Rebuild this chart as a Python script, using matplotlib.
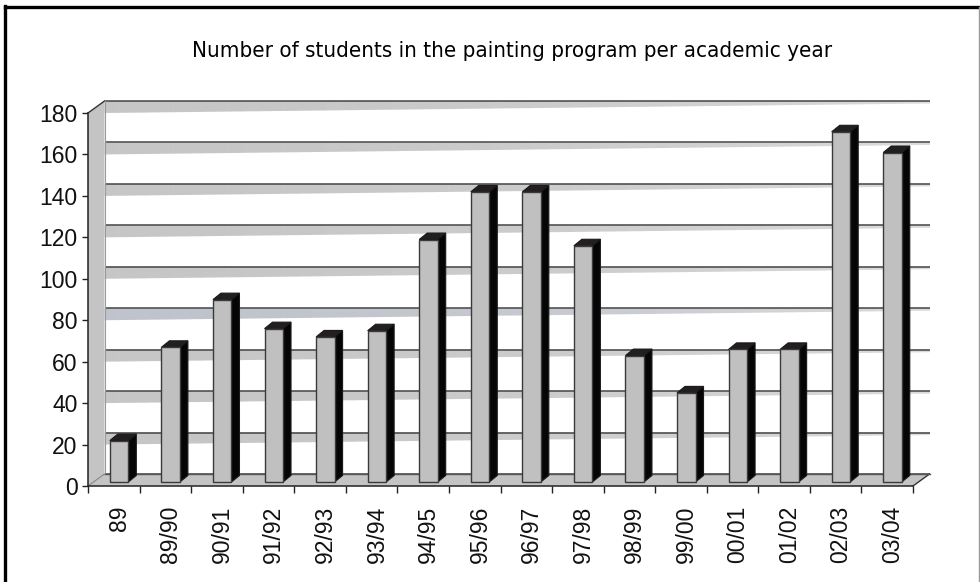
import matplotlib
matplotlib.use("Agg")
import matplotlib.pyplot as plt
from matplotlib.patches import Polygon
import numpy as np

# ---- data ----
categories = ["89", "89/90", "90/91", "91/92", "92/93", "93/94", "94/95", "95/96",
              "96/97", "97/98", "98/99", "99/00", "00/01", "01/02", "02/03", "03/04"]
students = [20, 65, 88, 74, 70, 73, 117, 140, 140, 114, 61, 43, 64, 64, 169, 159]
y_ticks = [0, 20, 40, 60, 80, 100, 120, 140, 160, 180]
title = "Number of students in the painting program per academic year"

W, H = 980, 582
fig = plt.figure(figsize=(W / 100, H / 100), dpi=100)

# axes: front plane of the 3-D box
L, R, T, B = 88, 913, 113, 486
ax = fig.add_axes([L / W, (H - B) / H, (R - L) / W, (B - T) / H])
n = len(categories)
ax.set_xlim(-0.5, n - 0.5)
ax.set_ylim(0, 180)
ux = n / (R - L)          # category units per pixel
uy = 180 / (B - T)        # value units per pixel

DXW, DYW = 16.5 * ux, 12 * uy        # wall depth
BX0, BY0 = 5.3 * ux, 4 * uy          # bar front plane offset
BDX, BDY = 8 * ux, 6.5 * uy          # bar depth
BW = 18.5 * ux                        # bar front width

x0, x1 = -0.5, n - 0.5
wall_edge = "#333333"

# back wall bands (gradient wedges) and gridlines
nseg = 60
for v in y_ticks[1:]:
    base = "#bfc3cb" if v == 80 else "#c6c6c6"
    c0 = np.array(matplotlib.colors.to_rgb(base))
    c1 = np.array([0.86, 0.86, 0.86])
    xa, xb = x0 + DXW, x1 + DXW
    for k in range(nseg):
        t0, t1 = k / nseg, (k + 1) / nseg
        xs0 = xa + (xb - xa) * t0
        xs1 = xa + (xb - xa) * t1
        yb0 = v + (DYW - 2.5 * uy) * t0
        yb1 = v + (DYW - 2.5 * uy) * t1
        col = c0 + (c1 - c0) * (t0 ** 2)
        ax.add_patch(Polygon([(xs0, v + DYW), (xs1 + 0.01, v + DYW),
                              (xs1 + 0.01, yb1), (xs0, yb0)],
                             closed=True, facecolor=col, edgecolor="none",
                             clip_on=False, zorder=1))
for v in y_ticks:
    ax.plot([x0 + DXW, x1 + DXW], [v + DYW, v + DYW], color="#444444",
            lw=1.1, clip_on=False, zorder=2, solid_capstyle="butt")

# left wall
ax.add_patch(Polygon([(x0, 0), (x0 + DXW, DYW), (x0 + DXW, 180 + DYW), (x0, 180)],
                     closed=True, facecolor="#c4c4c4", edgecolor="none",
                     clip_on=False, zorder=3))
ax.plot([x0, x0 + DXW], [180, 180 + DYW], color=wall_edge, lw=1, clip_on=False, zorder=4)
ax.plot([x0 + DXW, x0 + DXW], [DYW, 180 + DYW], color="#9a9a9a", lw=0.8, clip_on=False, zorder=4)

# floor
ax.add_patch(Polygon([(x0, 0), (x0 + DXW, DYW), (x1 + DXW, DYW), (x1, 0)],
                     closed=True, facecolor="#c4c4c4", edgecolor="none",
                     clip_on=False, zorder=3))
ax.plot([x0, x0 + DXW], [0, DYW], color="#888888", lw=0.8, clip_on=False, zorder=4)
ax.plot([x1, x1 + DXW], [0, DYW], color=wall_edge, lw=1, clip_on=False, zorder=4)
ax.plot([x0 + DXW, x1 + DXW], [DYW, DYW], color="#555555", lw=1, clip_on=False, zorder=4)

# bars
for i, v in enumerate(students):
    fx0 = i + BX0 - BW / 2
    fx1 = fx0 + BW
    b = BY0
    z = 5 + i * 0.01
    ax.bar([fx0], [v], width=BW, bottom=b, align="edge", color="#c0c0c0",
           edgecolor="#3a3a3a", linewidth=1, zorder=z + 0.002, clip_on=False)
    ax.add_patch(Polygon([(fx1, b), (fx1 + BDX, b + BDY), (fx1 + BDX, v + b + BDY), (fx1, v + b)],
                         closed=True, facecolor="#050505", edgecolor="#1a1a1a", lw=0.8,
                         clip_on=False, zorder=z))
    ax.add_patch(Polygon([(fx0, v + b), (fx0 + BDX, v + b + BDY), (fx1 + BDX, v + b + BDY), (fx1, v + b)],
                         closed=True, facecolor="#231f20", edgecolor="#1a1a1a", lw=0.8,
                         clip_on=False, zorder=z + 0.001))

# axes styling
for s in ["top", "right"]:
    ax.spines[s].set_visible(False)
for s in ["left", "bottom"]:
    ax.spines[s].set_color("#222222")
    ax.spines[s].set_linewidth(1.1)
    ax.spines[s].set_zorder(6)
ax.patch.set_visible(False)

ax.set_yticks(y_ticks)
ax.set_yticklabels([str(t) for t in y_ticks])
ax.tick_params(axis="y", length=4.5, width=1, color="#222222", pad=3,
               labelsize=16.5, labelcolor="#111111")
ax.set_xticks([i + BX0 for i in range(n)])
ax.set_xticklabels(categories, rotation=90, va="top", ha="center")
ax.tick_params(axis="x", which="major", length=0, pad=14, labelsize=16.5,
               labelcolor="#111111")
ax.set_xticks([i - 0.5 for i in range(n + 1)], minor=True)
ax.tick_params(axis="x", which="minor", length=5, width=1, color="#222222")
for lab in ax.get_xticklabels() + ax.get_yticklabels():
    lab.set_family(["Liberation Sans", "DejaVu Sans"])

# title
fig.text(512 / W, 1 - 51 / H, title, ha="center", va="center", fontsize=16,
         family=["DejaVu Sans"], fontstretch="condensed", color="#000000")

# outer frame
fig.add_artist(plt.Line2D([4.5 / W, 979 / W], [1 - 7 / H, 1 - 7 / H],
                          transform=fig.transFigure, color="#000000", lw=2.4))
fig.add_artist(plt.Line2D([5 / W, 5 / W], [1 - 6 / H, 0],
                          transform=fig.transFigure, color="#000000", lw=2.4))
fig.add_artist(plt.Line2D([979 / W, 979 / W], [1 - 7 / H, 0],
                          transform=fig.transFigure, color="#9a9a9a", lw=1))

fig.savefig("out.png", dpi=100)
